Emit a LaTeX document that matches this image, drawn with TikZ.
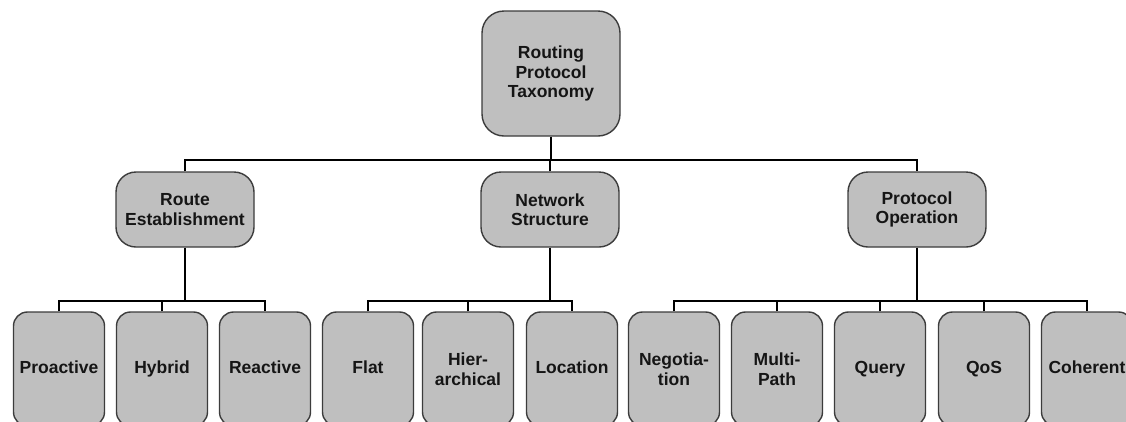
\documentclass[tikz,border=0pt]{standalone}
\usepackage{fontspec}
\setmainfont{Liberation Sans}
\definecolor{boxfill}{HTML}{BFBFBF}
\definecolor{boxline}{HTML}{3C3C3C}
\definecolor{txt}{HTML}{151515}
\begin{document}
\begin{tikzpicture}[x=1pt,y=-1pt,
  base/.style={draw=boxline,line width=1.4pt,fill=boxfill,inner sep=0pt,align=center,
    text=txt,font=\bfseries\fontsize{17.5}{19.5}\selectfont},
  rootbox/.style={base,minimum width=138pt,minimum height=125pt,rounded corners=22pt},
  midbox/.style={base,minimum width=138pt,minimum height=75pt,rounded corners=20pt},
  leafbox/.style={base,minimum width=91pt,minimum height=114pt,rounded corners=14pt},
  oneline/.style={text height=12.5pt,text depth=3.5pt},
  conn/.style={draw=black,line width=2.6pt,line cap=butt,line join=miter}]
\useasboundingbox (0,0) rectangle (1126,421);
\clip (0,0) rectangle (1126,421);
\fill[white] (0,0) rectangle (1126,421);
\coordinate (tb) at (0,160);
\coordinate (bb) at (0,301);
% root
\node[rootbox] (root) at (551,73.5) {Routing\\Protocol\\Taxonomy};
% middle level
\node[midbox] (re) at (185,209.5) {Route\\Establishment};
\node[midbox] (ns) at (550,209.5) {Network\\Structure};
\node[midbox] (po) at (917,209.5) {Protocol\\Operation};
% leaves
\node[leafbox,oneline] (pa) at (59,369) {Proactive};
\node[leafbox,oneline] (hy) at (162,369) {Hybrid};
\node[leafbox,oneline] (ra) at (265,369) {Reactive};
\node[leafbox,oneline] (fl) at (368,369) {Flat};
\node[leafbox] (hi) at (468,369) {Hier-\\archical};
\node[leafbox,oneline] (lo) at (572,369) {Location};
\node[leafbox] (ne) at (674,369) {Negotia-\\tion};
\node[leafbox] (mp) at (777,369) {Multi-\\Path};
\node[leafbox,oneline] (qu) at (880,369) {Query};
\node[leafbox,oneline] (qo) at (984,369) {QoS};
\node[leafbox,oneline] (co) at (1087,369) {Coherent};
% top connectors
\draw[conn] (root.south) -- (root.south |- tb);
\draw[conn] (re.north) -- (re.north |- tb) -- (po.north |- tb) -- (po.north);
\draw[conn] (ns.north) -- (ns.north |- tb);
% route establishment group
\draw[conn] (re.south) -- (re.south |- bb);
\draw[conn] (pa.north) -- (pa.north |- bb) -- (ra.north |- bb) -- (ra.north);
\draw[conn] (hy.north) -- (hy.north |- bb);
% network structure group
\draw[conn] (ns.south) -- (ns.south |- bb);
\draw[conn] (fl.north) -- (fl.north |- bb) -- (lo.north |- bb) -- (lo.north);
\draw[conn] (hi.north) -- (hi.north |- bb);
% protocol operation group
\draw[conn] (po.south) -- (po.south |- bb);
\draw[conn] (ne.north) -- (ne.north |- bb) -- (co.north |- bb) -- (co.north);
\draw[conn] (mp.north) -- (mp.north |- bb);
\draw[conn] (qu.north) -- (qu.north |- bb);
\draw[conn] (qo.north) -- (qo.north |- bb);
\end{tikzpicture}
\end{document}
